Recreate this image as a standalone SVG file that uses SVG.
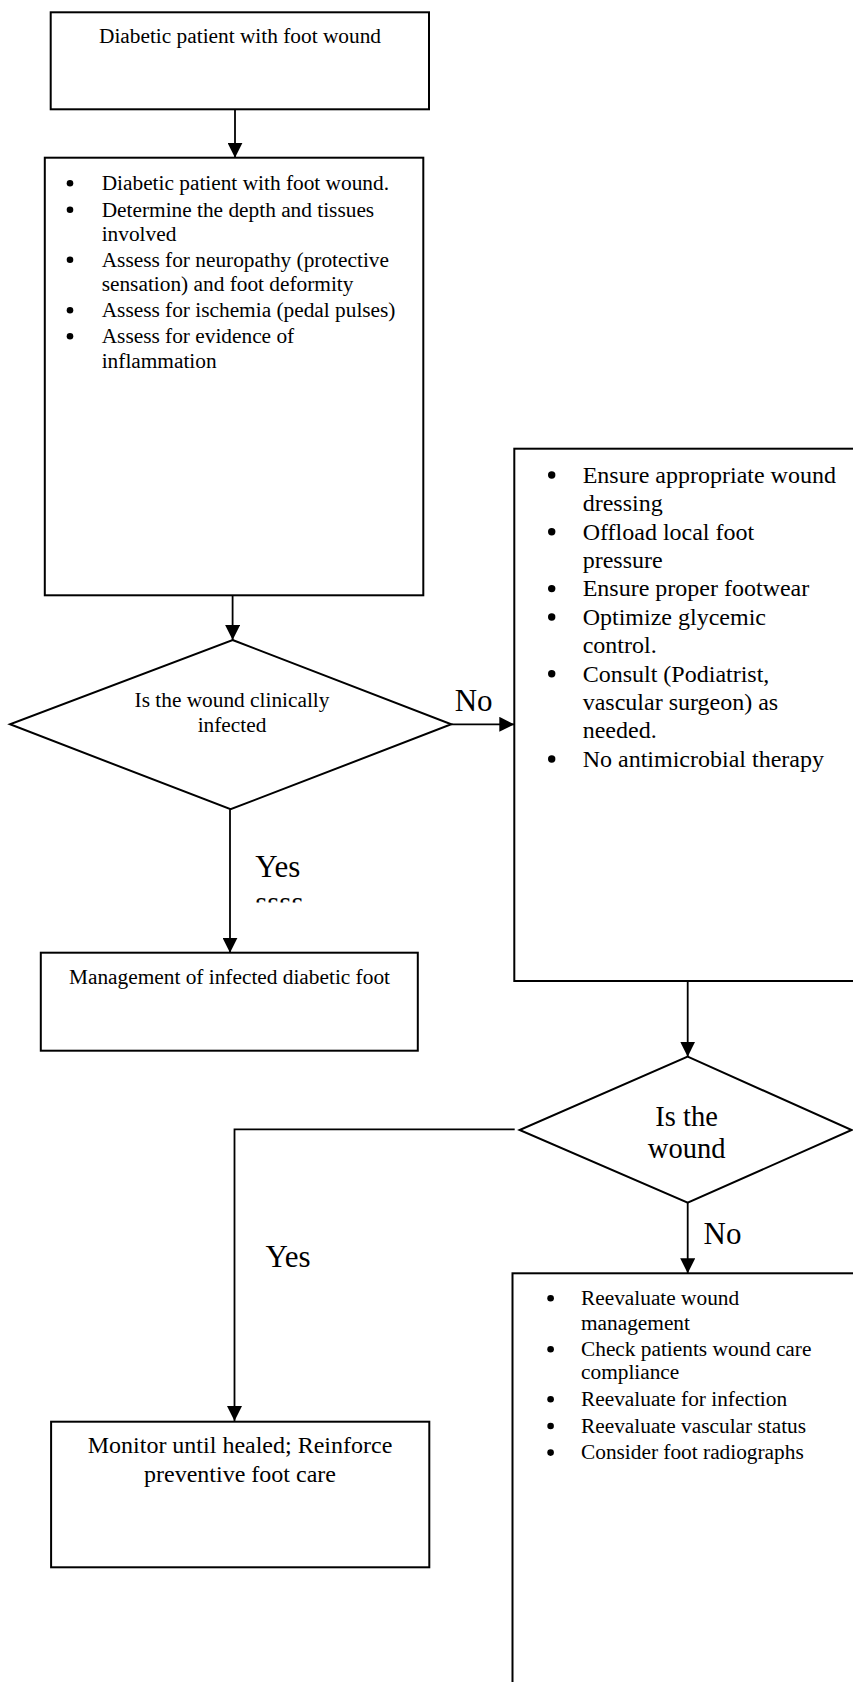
<svg xmlns="http://www.w3.org/2000/svg" width="853" height="1682" viewBox="0 0 853 1682">
<style>
text{font-family:"Liberation Serif","Times New Roman",serif;fill:#000}
.box{fill:#fff;stroke:#000;stroke-width:2}
.line{fill:none;stroke:#000;stroke-width:1.8}
.t21{font-size:21.33px}
.t24{font-size:24px}
.t28{font-size:28.5px}
.big{font-size:31px}
.c{text-anchor:middle}
.b{fill:#000}
</style>
<defs>
<marker id="ah" markerUnits="userSpaceOnUse" markerWidth="15" markerHeight="15" refX="15" refY="7.5" orient="auto">
<path d="M0,0 L15,7.5 L0,15 z" fill="#000"/>
</marker>
<clipPath id="clipS"><rect x="240" y="895" width="80" height="7.5"/></clipPath>
</defs>
<rect width="853" height="1682" fill="#fff"/>

<g id="connectors">
<line class="line" x1="235" y1="109.3" x2="235" y2="157.7" marker-end="url(#ah)"/>
<line class="line" x1="232.6" y1="595.3" x2="232.6" y2="640" marker-end="url(#ah)"/>
<line class="line" x1="451.3" y1="724.3" x2="514.3" y2="724.3" marker-end="url(#ah)"/>
<line class="line" x1="230" y1="809.3" x2="230" y2="952.7" marker-end="url(#ah)"/>
<line class="line" x1="687.7" y1="981" x2="687.7" y2="1056.7" marker-end="url(#ah)"/>
<polyline class="line" points="514.7,1129.3 234.5,1129.3 234.5,1421" marker-end="url(#ah)"/>
<line class="line" x1="687.7" y1="1202.7" x2="687.7" y2="1273.3" marker-end="url(#ah)"/>
<text class="big" x="454.7" y="710.7">No</text>
<text class="big" x="255.2" y="876.7">Yes</text>
<text class="big" x="255.2" y="913" clip-path="url(#clipS)">ssss</text>
<text class="big" x="703.5" y="1244">No</text>
<text class="big" x="265.5" y="1267.3">Yes</text>
</g>

<g id="start">
<rect class="box" x="50.7" y="12.3" width="378.3" height="97"/>
<text class="t21 c" x="240" y="43.3">Diabetic patient with foot wound</text>
</g>

<g id="assess">
<rect class="box" x="44.8" y="157.7" width="378.5" height="437.6"/>
<g class="b">
<circle cx="70" cy="183.3" r="3.3"/>
<circle cx="70" cy="209.8" r="3.3"/>
<circle cx="70" cy="259.8" r="3.3"/>
<circle cx="70" cy="310.3" r="3.3"/>
<circle cx="70" cy="336.3" r="3.3"/>
</g>
<g class="t21">
<text x="101.7" y="190">Diabetic patient with foot wound.</text>
<text x="101.7" y="216.5">Determine the depth and tissues</text>
<text x="101.7" y="240.5">involved</text>
<text x="101.7" y="266.5">Assess for neuropathy (protective</text>
<text x="101.7" y="290.5">sensation) and foot deformity</text>
<text x="101.7" y="317">Assess for ischemia (pedal pulses)</text>
<text x="101.7" y="343">Assess for evidence of</text>
<text x="101.7" y="367.5">inflammation</text>
</g>
</g>

<g id="decision1">
<polygon class="box" points="232.6,640 451.3,724.3 230.6,809.3 10,724.3"/>
<text class="t21 c" x="232" y="706.7">Is the wound clinically</text>
<text class="t21 c" x="232" y="731.7">infected</text>
</g>

<g id="noninfected">
<rect class="box" x="514.3" y="448.7" width="360" height="532.3"/>
<g class="b">
<circle cx="551.7" cy="475" r="3.7"/>
<circle cx="551.7" cy="531.8" r="3.7"/>
<circle cx="551.7" cy="588.6" r="3.7"/>
<circle cx="551.7" cy="617" r="3.7"/>
<circle cx="551.7" cy="673.8" r="3.7"/>
<circle cx="551.7" cy="759" r="3.7"/>
</g>
<g class="t24">
<text x="582.7" y="482.7">Ensure appropriate wound</text>
<text x="582.7" y="511.1">dressing</text>
<text x="582.7" y="539.5">Offload local foot</text>
<text x="582.7" y="567.9">pressure</text>
<text x="582.7" y="596.3">Ensure proper footwear</text>
<text x="582.7" y="624.7">Optimize glycemic</text>
<text x="582.7" y="653.1">control.</text>
<text x="582.7" y="681.5">Consult (Podiatrist,</text>
<text x="582.7" y="709.9">vascular surgeon) as</text>
<text x="582.7" y="738.3">needed.</text>
<text x="582.7" y="766.7">No antimicrobial therapy</text>
</g>
</g>

<g id="infected">
<rect class="box" x="40.8" y="952.7" width="377" height="98"/>
<text class="t21 c" x="229.5" y="984">Management of infected diabetic foot</text>
</g>

<g id="decision2">
<polygon class="box" points="687.7,1056.7 851.7,1130 687.7,1202.7 519.6,1130"/>
<text class="t28 c" x="686.6" y="1126">Is the</text>
<text class="t28 c" x="686.6" y="1158.3">wound</text>
</g>

<g id="monitor">
<rect class="box" x="51.1" y="1421.7" width="378.2" height="145.6"/>
<text class="t24 c" x="240" y="1453.3">Monitor until healed; Reinforce</text>
<text class="t24 c" x="240" y="1481.7">preventive foot care</text>
</g>

<g id="reevaluate">
<rect class="box" x="512.5" y="1273.3" width="360" height="430"/>
<g class="b">
<circle cx="550.6" cy="1298.3" r="3.3"/>
<circle cx="550.6" cy="1349.3" r="3.3"/>
<circle cx="550.6" cy="1399.3" r="3.3"/>
<circle cx="550.6" cy="1426" r="3.3"/>
<circle cx="550.6" cy="1452.6" r="3.3"/>
</g>
<g class="t21">
<text x="581" y="1305">Reevaluate wound</text>
<text x="581" y="1330">management</text>
<text x="581" y="1356">Check patients wound care</text>
<text x="581" y="1379.3">compliance</text>
<text x="581" y="1406">Reevaluate for infection</text>
<text x="581" y="1432.7">Reevaluate vascular status</text>
<text x="581" y="1459.3">Consider foot radiographs</text>
</g>
</g>
</svg>
